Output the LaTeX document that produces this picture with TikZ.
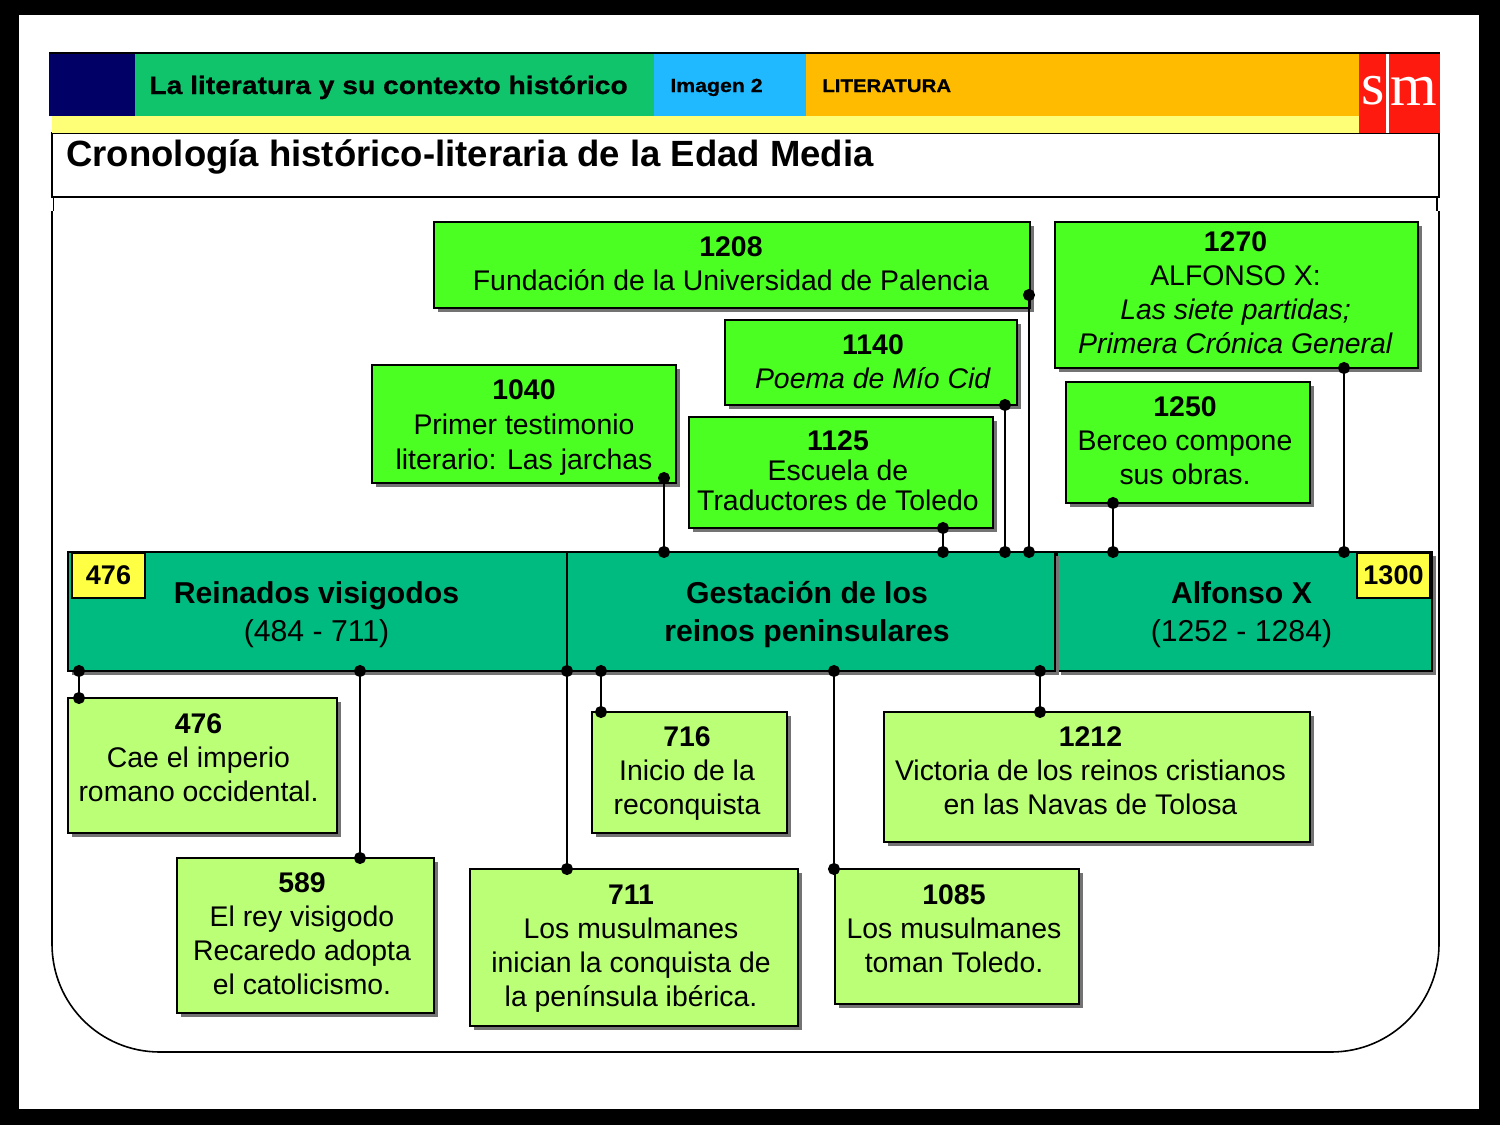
\documentclass[tikz,border=0pt]{standalone}
\usepackage{fontspec}
\setmainfont{Liberation Sans}
\newfontfamily\smfont{Liberation Serif}
\newfontfamily\headfont[FakeStretch=1.12,FakeBold=0.6]{Liberation Sans Bold}
\usepackage{xcolor}
\usetikzlibrary{calc,shadows,arrows.meta}
\definecolor{hnavy}{HTML}{000066}
\definecolor{hgreen}{HTML}{10C46C}
\definecolor{hblue}{HTML}{20B8FF}
\definecolor{horange}{HTML}{FFBB00}
\definecolor{hyellow}{HTML}{FFFF77}
\definecolor{hred}{HTML}{FF1A10}
\definecolor{bandgreen}{HTML}{00BB80}
\definecolor{brightgreen}{HTML}{4CFF22}
\definecolor{palegreen}{HTML}{BBFF77}
\definecolor{flagyellow}{HTML}{FFFF44}
\tikzset{>={Circle[length=6pt]}}
\tikzset{wh/.style 2 args={minimum width=#1*0.5pt,minimum height=#2*0.5pt}}
\tikzset{shade/.style={drop shadow={shadow xshift=2.2pt,shadow yshift=-2.2pt,opacity=1,fill=black!55}}}
\tikzset{tbox/.style={draw=black,line width=0.8pt,anchor=north west,outer sep=0pt,inner sep=0pt,shade}}
\tikzset{upper/.style={tbox,fill=brightgreen}}
\tikzset{lower/.style={tbox,fill=palegreen}}
\tikzset{band/.style={tbox,fill=bandgreen}}
\tikzset{flag/.style={draw=black,line width=0.8pt,anchor=north west,outer sep=0pt,inner sep=0pt,fill=flagyellow,font=\fontsize{13.5}{16}\selectfont\bfseries}}
\tikzset{strip/.style={anchor=north west,outer sep=0pt,inner sep=0pt}}
\tikzset{headtext/.style={anchor=base west,inner sep=0pt}}
\tikzset{txt/.style={inner sep=0pt,align=center,font=\fontsize{14.2}{17}\selectfont}}
\tikzset{bandtxt/.style={inner sep=0pt,align=center,font=\fontsize{15.1}{19}\selectfont\bfseries}}
\tikzset{link/.style={<->,line width=1pt,shorten <=-3pt,shorten >=-3pt}}
\begin{document}
\begin{tikzpicture}[x=0.5pt,y=-0.5pt]
  \useasboundingbox (0,0) rectangle (1500,1125);
  % Frame
  \fill[black] (0,0) rectangle (1500,1125);
  \fill[white] (19,15) rectangle (1479,1109);
  \draw[line width=0.8pt] (52,211) -- (52,944) .. controls (52,1004) and (100,1052) .. (160,1052)
    -- (1331,1052) .. controls (1391,1052) and (1439,1004) .. (1439,944) -- (1439,211);
  \draw[line width=0.8pt] (53.5,197) -- (53.5,211);
  \draw[line width=0.8pt] (1437,197) -- (1437,211);
  \draw[line width=0.8pt] (52,133) rectangle (1439,197);

  % Header
  \node[strip,fill=hnavy,wh={86}{63}] (navy) at (49,53) {};
  \node[strip,fill=hgreen,wh={519}{63}] (topic) at (135,53) {};
  \node[strip,fill=hblue,wh={152}{63}] (image) at (654,53) {};
  \node[strip,fill=horange,wh={553}{63}] (subject) at (806,53) {};
  \node[strip,fill=hyellow,wh={1307}{17}] (stripe) at (52,116) {};
  \node[strip,fill=hred,wh={81}{80}] (logo) at (1359,53) {};
  \draw[white,line width=1.5pt] (logo.north) ++(-12,0) -- ++(0,80);
  \draw[line width=0.8pt] (49,53) -- (1440,53);
  \node[headtext,font=\fontsize{12.6}{15}\headfont] (topictext) at (149,94) {La literatura y su contexto histórico};
  \node[headtext,font=\fontsize{9.5}{11}\headfont] (imagetext) at (670,92) {Imagen 2};
  \node[headtext,font=\fontsize{9.1}{11}\headfont] (subjecttext) at (822,92) {LITERATURA};
  \node[white,inner sep=0pt,font=\fontsize{30}{30}\smfont] (smS) at (1373,91) {s};
  \node[white,inner sep=0pt,font=\fontsize{30}{30}\smfont] (smM) at (1414,91) {m};
  \node[headtext,font=\fontsize{18.25}{22}\selectfont\bfseries] (title) at (66,166) {Cronología histórico-literaria de la Edad Media};

  % Boxes above
  \node[upper,wh={596}{86}] (e1208) at (434,222) {};
  \node[upper,wh={363}{146}] (e1270) at (1055,222) {};
  \node[upper,wh={292}{85}] (e1140) at (725,320) {};
  \node[upper,wh={304}{118}] (e1040) at (372,365) {};
  \node[upper,wh={304}{111}] (e1125) at (689,417) {};
  \node[upper,wh={244}{121}] (e1250) at (1066,382) {};

  % Bands
  \node[band,wh={375}{119}] (alfonso) at (1057,552) {};
  \node[band,wh={499}{119}] (visigodos) at (68,552) {};
  \node[band,wh={488}{119}] (gestacion) at (567,552) {};
  \node[flag,wh={73}{45}] (f476) at (72,553) {476};
  \node[flag,wh={73}{45}] (f1300) at (1357,553) {1300};

  % Boxes below
  \node[lower,wh={269}{135}] (e476) at (68,698) {};
  \node[lower,wh={257}{155}] (e589) at (177,858) {};
  \node[lower,wh={328}{157}] (e711) at (470,869) {};
  \node[lower,wh={195}{121}] (e716) at (592,712) {};
  \node[lower,wh={244}{135}] (e1085) at (835,869) {};
  \node[lower,wh={426}{130}] (e1212) at (884,712) {};

  % Lines
  \coordinate (p1208) at ($(e1208.south east)+(-1,-13)$);
  \coordinate (p1140) at ($(e1140.south east)+(-12,0)$);
  \coordinate (p1040) at ($(e1040.south east)+(-12,-5)$);
  \coordinate (p1270) at ($(e1270.south west)+(289,0)$);
  \draw[link] (p1040) -- (p1040 |- gestacion.north);
  \draw[link] (e1125.south -| 943,0) -- (gestacion.north -| 943,0);
  \draw[link] (p1140) -- (p1140 |- gestacion.north);
  \draw[link] (p1208) -- (p1208 |- gestacion.north);
  \draw[link] (e1250.south -| 1113,0) -- (alfonso.north -| 1113,0);
  \draw[link] (p1270) -- (p1270 |- alfonso.north);

  \draw[link] (visigodos.south -| 79,0) -- (e476.north -| 79,0);
  \draw[link] (visigodos.south -| 360,0) -- (e589.north -| 360,0);
  \draw[link] (visigodos.south east) -- (e711.north -| 567,0);
  \draw[link] (gestacion.south -| 601,0) -- (e716.north -| 601,0);
  \draw[link] (gestacion.south -| 834,0) -- (e1085.north -| 834,0);
  \draw[link] (gestacion.south -| 1040,0) -- (e1212.north -| 1040,0);

  % Label
  \node[txt] (t1208) at (731,264) {\textbf{1208}\\Fundación de la Universidad de Palencia};
  \node[txt] (t1270) at (1235.5,293) {\textbf{1270}\\ALFONSO X:\\\textit{Las siete partidas;}\\\textit{Primera Crónica General}};
  \node[txt] (t1140) at (873,361.5) {\textbf{1140}\\\textit{Poema de Mío Cid}};
  \node[txt,font=\fontsize{14.2}{17.5}\selectfont] (t1040) at (524,428) {\textbf{1040}\\Primer testimonio\\literario: Las jarchas};
  \node[txt,font=\fontsize{14.2}{15}\selectfont] (t1125) at (838,470.5) {\textbf{1125}\\Escuela de\\Traductores de Toledo};
  \node[txt] (t1250) at (1185,440.5) {\textbf{1250}\\Berceo compone\\sus obras.};

  \node[bandtxt] (tvisigodos) at (316.5,615) {Reinados visigodos\\\mdseries(484 - 711)};
  \node[bandtxt] (tgestacion) at (807,615) {Gestación de los\\reinos peninsulares};
  \node[bandtxt] (talfonso) at (1241.5,615) {Alfonso X\\\mdseries(1252 - 1284)};

  \node[txt] (t476) at (198.5,758) {\textbf{476}\\Cae el imperio\\romano occidental.};
  \node[txt] (t589) at (302,933.5) {\textbf{589}\\El rey visigodo\\Recaredo adopta\\el catolicismo.};
  \node[txt] (t711) at (631,949) {\textbf{711}\\Los musulmanes\\inician la conquista de\\la península ibérica.};
  \node[txt] (t716) at (687,773.5) {\textbf{716}\\Inicio de la\\reconquista};
  \node[txt] (t1085) at (954,929) {\textbf{1085}\\Los musulmanes\\toman Toledo.};
  \node[txt] (t1212) at (1090.5,771) {\textbf{1212}\\Victoria de los reinos cristianos\\en las Navas de Tolosa};
\end{tikzpicture}
\end{document}
